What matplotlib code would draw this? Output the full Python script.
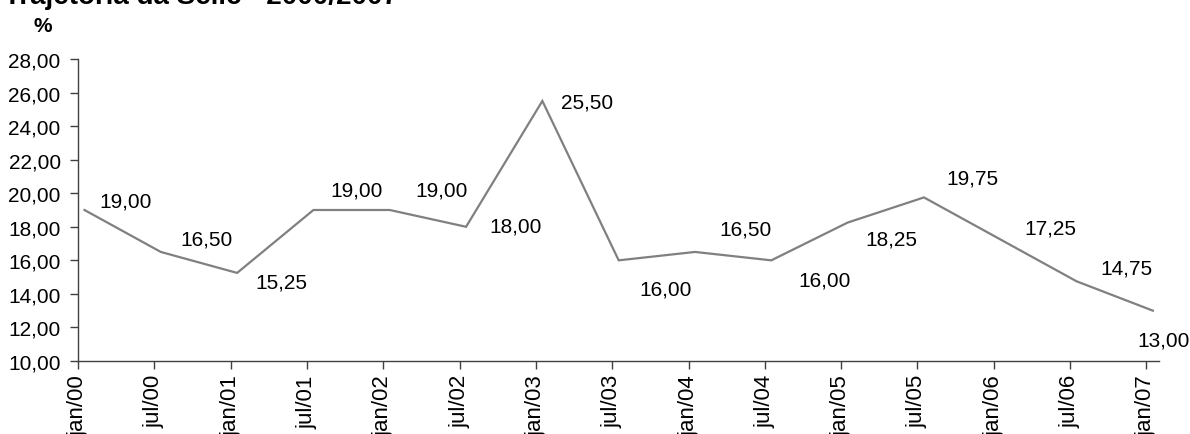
import matplotlib
matplotlib.use("Agg")
import matplotlib.pyplot as plt

plt.rcParams['font.family'] = ['Liberation Sans', 'DejaVu Sans']

# Selic rate, semiannual observations
periods = ["jan/00", "jul/00", "jan/01", "jul/01", "jan/02", "jul/02", "jan/03",
           "jul/03", "jan/04", "jul/04", "jan/05", "jul/05", "jan/06", "jul/06",
           "jan/07"]
selic = [19.00, 16.50, 15.25, 19.00, 19.00, 18.00, 25.50,
         16.00, 16.50, 16.00, 18.25, 19.75, 17.25, 14.75, 13.00]

# label offsets (pixels) relative to each point: left edge, vertical centre
label_offsets = [(15, 9), (20, 13), (18, -9), (17, 20), (26, 20), (23, 1),
                 (19, -1), (21, -29), (24, 23), (27, -20), (18, -16),
                 (22, 19), (24, 11), (24, 13), (-16, -29)]

FS = 15

fig = plt.figure(figsize=(11.9, 4.35), dpi=100)
ax = fig.add_axes([78 / 1190, 1 - 362 / 435, (1159 - 78) / 1190, (362 - 60) / 435])

x = list(range(len(periods)))
ax.plot(x, selic, color="#808080", linewidth=1.6, solid_joinstyle="miter")

for xi, v, (dx, dy) in zip(x, selic, label_offsets):
    ax.annotate(f"{v:.2f}".replace(".", ","), (xi, v), xytext=(dx, dy),
                textcoords="offset pixels", ha="left", va="center",
                fontsize=FS, color="black")

# category ticks sit slightly left of the plotted points
tick_shift = 0.085
ax.set_xlim(-tick_shift, len(periods) - 1 + 0.08)
ax.set_ylim(10, 28)
ax.set_yticks(range(10, 29, 2))
ax.set_yticklabels([f"{v:.2f}".replace(".", ",") for v in range(10, 29, 2)])
ax.set_xticks([xi - tick_shift for xi in x])
ax.set_xticklabels(periods, rotation=90, va="top", ha="center")

for s in ("top", "right"):
    ax.spines[s].set_visible(False)
for s in ("left", "bottom"):
    ax.spines[s].set_color("#404040")
    ax.spines[s].set_linewidth(1.0)

ax.tick_params(axis="both", direction="out", length=5.5, width=1.0,
               color="#404040", labelsize=FS, labelcolor="black")
ax.tick_params(axis="y", pad=7)
ax.tick_params(axis="x", pad=4, labelsize=16)

fig.text(34 / 1190, 1 - 32 / 435, "%", fontsize=FS, fontweight="bold",
         ha="left", va="baseline")

# chart title
fig.text(4 / 1190, 1 - 4 / 435, "Trajetória da Selic - 2000/2007", fontsize=20,
         fontweight="bold", ha="left", va="baseline")

fig.savefig("out.png", dpi=100)
